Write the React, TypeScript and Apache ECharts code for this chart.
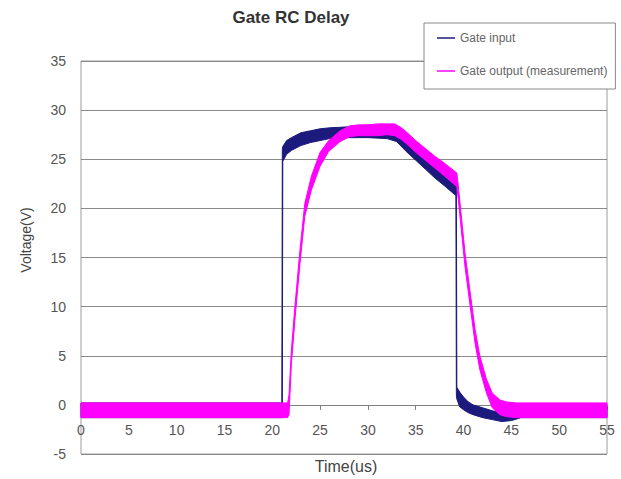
import React, { useEffect, useRef } from "react";
import * as echarts from "echarts";

// Axis ranges / tick steps
const xMin = 0;
const xMax = 55;
const xStep = 5;
const yMin = -5;
const yMax = 35;
const yStep = 5;

const titleText = "Gate RC Delay";
const xName = "Time(us)";
const yName = "Voltage(V)";
const seriesNames = ["Gate input", "Gate output (measurement)"];

// Gate input trace: time (us) with upper / lower envelope of the noisy trace (V)
const inputTime = [0, 21.0, 21.05, 21.1, 21.5, 22, 23, 24, 25, 26, 28, 30, 32, 33, 34, 35, 36, 37, 38, 39.2, 39.25, 39.3, 39.6, 40, 40.5, 41, 42, 43, 44, 45, 46, 55];
const inputHigh = [0.2, 0.2, 26.0, 26.3, 26.9, 27.2, 27.7, 27.9, 28.1, 28.2, 28.3, 28.3, 28.3, 28.1, 27.2, 26.2, 25.3, 24.4, 23.6, 22.5, 22.3, 1.8, 1.3, 0.8, 0.3, 0.0, -0.3, -0.6, -0.8, -0.8, -0.2, -0.2];
const inputLow = [-1.3, -1.3, -1.3, 24.8, 25.5, 25.9, 26.4, 26.7, 26.9, 27.1, 27.2, 27.2, 27.1, 26.8, 25.8, 24.9, 24.0, 23.1, 22.3, 21.3, 1.0, 0.6, -0.2, -0.5, -0.8, -1.0, -1.3, -1.5, -1.7, -1.6, -1.3, -1.3];

// Gate output (measurement) trace
const outputTime = [0, 21.6, 21.75, 22.0, 22.4, 22.9, 23.4, 24.1, 25.0, 25.9, 27.1, 28.1, 29, 30, 31, 32, 32.8, 33.5, 34, 35, 36, 37, 38, 39.3, 39.45, 39.8, 40.15, 40.7, 41.2, 41.7, 42.4, 43.0, 43.8, 44.5, 45.5, 55];
const outputHigh = [0.2, 0.2, 1.0, 5.6, 10.4, 15.8, 20.5, 23.3, 25.7, 26.9, 27.9, 28.4, 28.5, 28.5, 28.6, 28.6, 28.6, 28.2, 27.8, 26.9, 26.1, 25.3, 24.6, 23.6, 22.3, 18.9, 15.5, 11.4, 7.7, 5.0, 2.6, 1.2, 0.5, 0.3, 0.2, 0.2];
const outputLow = [-1.3, -1.3, -1.0, 4.2, 9.0, 14.4, 19.2, 21.9, 24.3, 25.8, 26.8, 27.3, 27.4, 27.4, 27.4, 27.5, 27.4, 27.0, 26.6, 25.7, 24.9, 24.1, 23.3, 22.2, 20.9, 17.5, 14.1, 10.0, 6.3, 3.6, 1.2, -0.3, -1.0, -1.2, -1.3, -1.3];

const inputColor = "#1c1a7c";
const outputColor = "#ff00ff";
const FONT = "'Liberation Sans', Arial, sans-serif";

function bandSeries(name: string, color: string, t: number[], hi: number[], lo: number[]) {
  return {
    type: "custom",
    name,
    coordinateSystem: "cartesian2d",
    data: [[t[0], lo[0]]],
    encode: { x: 0, y: 1 },
    itemStyle: { color },
    renderItem: (_params: any, api: any) => {
      const pts: number[][] = [];
      for (let i = 0; i < t.length; i++) pts.push(api.coord([t[i], hi[i]]));
      for (let i = t.length - 1; i >= 0; i--) pts.push(api.coord([t[i], lo[i]]));
      return {
        type: "polygon",
        shape: { points: pts },
        style: { fill: color, stroke: color, lineWidth: 1 },
      };
    },
  };
}

export default function App() {
  const ref = useRef<HTMLDivElement>(null);
  useEffect(() => {
    if (!ref.current) return;
    const chart = echarts.init(ref.current, undefined, { renderer: "svg" });
    chart.setOption({
      animation: false,
      backgroundColor: "#ffffff",
      textStyle: { fontFamily: FONT },
      grid: {
        left: 81,
        right: 14,
        top: 61,
        bottom: 25,
        show: true,
        borderColor: "#9a9a9a",
        borderWidth: 1,
        backgroundColor: "transparent",
      },
      xAxis: {
        type: "value",
        min: xMin,
        max: xMax,
        interval: xStep,
        axisLine: { onZero: true, lineStyle: { color: "#808080", width: 1 } },
        axisTick: { show: true, length: 5, lineStyle: { color: "#808080" } },
        axisLabel: { margin: -31, color: "#555", fontSize: 14, fontFamily: FONT },
        splitLine: { show: false },
      },
      yAxis: {
        type: "value",
        min: yMin,
        max: yMax,
        interval: yStep,
        axisLine: { show: false },
        axisTick: { show: false },
        axisLabel: { margin: 15, color: "#555", fontSize: 14, fontFamily: FONT },
        splitLine: { show: true, lineStyle: { color: "#8a8a8a", width: 1 } },
      },
      legend: {
        orient: "vertical",
        left: 424,
        top: 23,
        padding: [9, 8, 12, 13],
        itemGap: 21,
        itemWidth: 18,
        itemHeight: 1.5,
        backgroundColor: "#ffffff",
        borderColor: "#8a8a8a",
        borderWidth: 1,
        textStyle: { color: "#666", fontSize: 12, fontFamily: FONT },
        data: [
          { name: seriesNames[0], icon: "rect" },
          { name: seriesNames[1], icon: "rect" },
        ],
      },
      graphic: [
        {
          type: "text",
          x: 291,
          y: 17,
          style: {
            text: titleText,
            align: "center",
            verticalAlign: "middle",
            font: `bold 17px ${FONT}`,
            fill: "#333",
          },
        },
        {
          type: "text",
          x: 346,
          y: 466,
          style: {
            text: xName,
            align: "center",
            verticalAlign: "middle",
            font: `16px ${FONT}`,
            fill: "#444",
          },
        },
        {
          type: "text",
          x: 26,
          y: 240,
          rotation: Math.PI / 2,
          style: {
            text: yName,
            align: "center",
            verticalAlign: "middle",
            font: `14px ${FONT}`,
            fill: "#444",
          },
        },
      ],
      series: [
        bandSeries(seriesNames[0], inputColor, inputTime, inputHigh, inputLow),
        bandSeries(seriesNames[1], outputColor, outputTime, outputHigh, outputLow),
      ],
    });
    return () => chart.dispose();
  }, []);
  return (
    <div
      ref={ref}
      style={{ position: "absolute", left: 0, top: 0, width: 621, height: 479, background: "#fff" }}
    />
  );
}
